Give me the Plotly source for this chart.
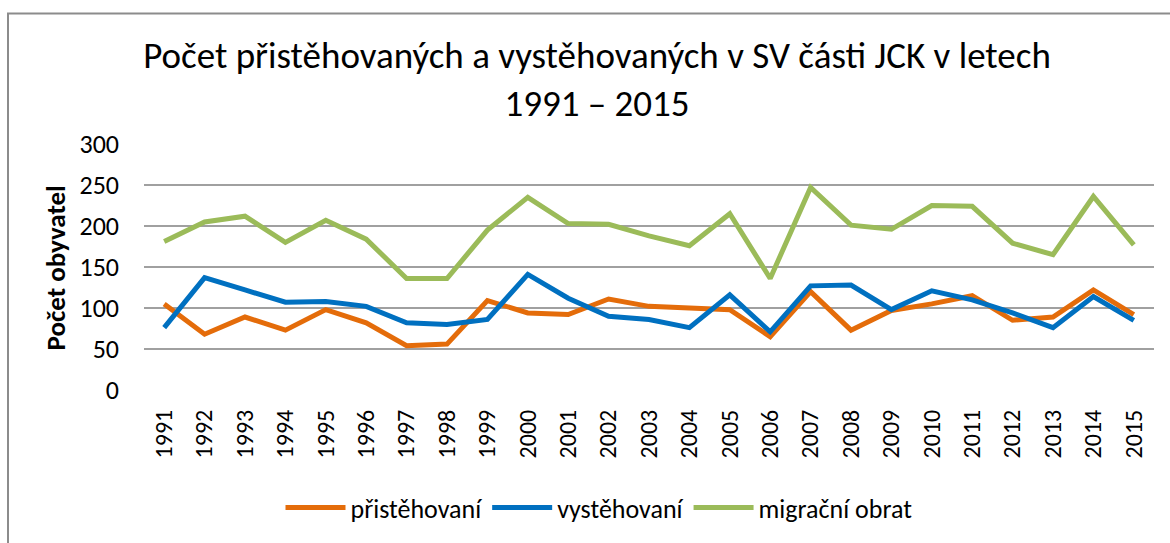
import plotly.graph_objects as go

years = [str(y) for y in range(1991, 2016)]
pristehovani = [105, 68, 89, 73, 98, 82, 54, 56, 109, 94, 92, 111, 102, 100, 98, 65,
                120, 73, 97, 105, 115, 85, 89, 122, 92]
vystehovani = [76, 137, 122, 107, 108, 102, 82, 80, 86, 141, 112, 90, 86, 76, 116, 71,
               127, 128, 98, 121, 110, 94, 76, 114, 85]
migracni_obrat = [181, 205, 212, 180, 207, 184, 136, 136, 195, 235, 203, 202, 188, 176, 215, 136,
                  247, 201, 196, 225, 224, 179, 165, 236, 177]

series = [
    ("přistěhovaní", pristehovani, "#E46C0A"),
    ("vystěhovaní", vystehovani, "#0070C0"),
    ("migrační obrat", migracni_obrat, "#9BBB59"),
]

FONT = "Carlito, Calibri, 'Liberation Sans Narrow', 'Open Sans', sans-serif"

fig = go.Figure()
for name, vals, col in series:
    fig.add_trace(go.Scatter(x=years, y=vals, name=name, mode="lines",
                             line=dict(color=col, width=5)))

W, H = 1170, 543
L, R, T, B = 144, 16, 144, 150
pw, ph = W - L - R, H - T - B

def px(x):
    return (x - L) / pw

def py(y):
    return (H - B - y) / ph

fig.update_layout(
    width=W, height=H,
    margin=dict(l=L, r=R, t=T, b=B),
    paper_bgcolor="white", plot_bgcolor="white",
    font=dict(family=FONT, color="#000000"),
    title=dict(text="Počet přistěhovaných a vystěhovaných v SV části JCK v letech<br>1991 – 2015",
               x=597 / W, xanchor="center", xref="container",
               y=1 - 68 / H, yanchor="middle", yref="container",
               font=dict(size=37, family=FONT, color="#000000")),
    xaxis=dict(type="category", range=[-0.5, 24.5], tickangle=-90,
               tickfont=dict(size=24, family=FONT, color="#000000"),
               showgrid=False, showline=False, ticks="", zeroline=False,
               ticklabelstandoff=14),
    yaxis=dict(range=[0, 300], dtick=50, tick0=0,
               tickfont=dict(size=26, family=FONT, color="#000000"),
               showgrid=True, gridcolor="#A0A0A0", gridwidth=1.5,
               zeroline=False, showline=False, ticks="", ticklabelstandoff=24),
    legend=dict(orientation="h", x=px(599), xanchor="center", y=py(512), yanchor="middle",
                font=dict(size=26, family=FONT, color="#000000"),
                itemwidth=60, tracegroupgap=0),
    showlegend=True,
)

fig.add_annotation(text="<b>Počet obyvatel</b>", xref="paper", yref="paper",
                   x=px(55), y=py(270), xanchor="center", yanchor="middle",
                   textangle=-90, showarrow=False,
                   font=dict(size=27, family=FONT, color="#000000"))

fig.add_shape(type="rect", xref="paper", yref="paper",
              x0=px(8), x1=px(1180), y0=py(560), y1=py(12),
              line=dict(color="#8C8C8C", width=2), fillcolor="rgba(0,0,0,0)", layer="below")

fig.write_html("out.html", config={"displayModeBar": False},
               post_script="document.body.style.margin='0';")
